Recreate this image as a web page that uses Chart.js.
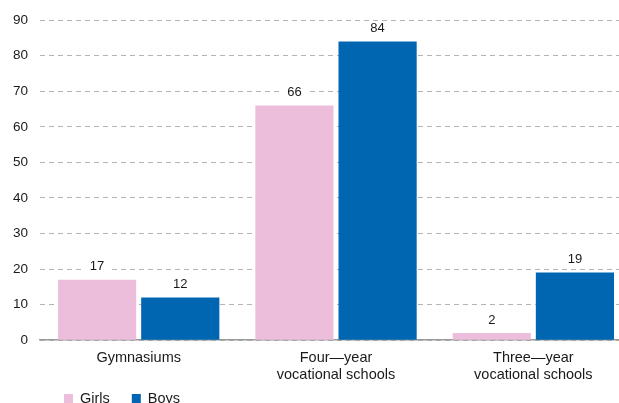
<!DOCTYPE html>
<html>
<head>
<meta charset="utf-8">
<script src="https://cdn.jsdelivr.net/npm/chart.js@4.4.1/dist/chart.umd.min.js"></script>
<style>
  html, body { margin: 0; padding: 0; background: #fff; overflow: hidden; }
  #wrap { width: 632px; height: 403px; }
</style>
</head>
<body>
<div id="wrap"><canvas id="chart" width="632" height="403"></canvas></div>
<script>
// data
const categories = [
  ['Gymnasiums'],
  ['Four\u2014year', 'vocational schools'],
  ['Three\u2014year', 'vocational schools']
];
const girls = [17, 66, 2];
const boys = [12, 84, 19];
const seriesNames = ['Girls', 'Boys'];
const yMax = 90;
const yStep = 10;

const pink = '#ecbedc';
const blue = '#0066b1';
const font = '"Liberation Sans", Arial, sans-serif';

// value labels above the bars, on a white patch so the dashes stop round them
const valueLabels = {
  id: 'valueLabels',
  afterDatasetsDraw(chart) {
    const ctx = chart.ctx;
    ctx.save();
    ctx.font = '13px ' + font;
    ctx.textAlign = 'center';
    ctx.textBaseline = 'middle';
    chart.data.datasets.forEach((ds, i) => {
      chart.getDatasetMeta(i).data.forEach((bar, j) => {
        const txt = String(ds.data[j]);
        const w = ctx.measureText(txt).width;
        const y = bar.y - 13;
        ctx.fillStyle = '#fff';
        ctx.fillRect(bar.x - w / 2 - 5, y - 7, w + 10, 14);
        ctx.fillStyle = '#1a1a1a';
        ctx.fillText(txt, bar.x, y);
      });
    });
    ctx.restore();
  }
};

// small legend at the bottom left
const bottomLegend = {
  id: 'bottomLegend',
  afterDraw(chart) {
    const ctx = chart.ctx;
    ctx.save();
    ctx.font = '14.5px ' + font;
    ctx.textBaseline = 'alphabetic';
    let x = 64;
    chart.data.datasets.forEach(ds => {
      ctx.fillStyle = ds.backgroundColor;
      ctx.fillRect(x, 394, 9, 9);
      ctx.fillStyle = '#1a1a1a';
      ctx.fillText(ds.label, x + 16, 403);
      x += 16 + ctx.measureText(ds.label).width + 22;
    });
    ctx.restore();
  }
};

new Chart(document.getElementById('chart'), {
  type: 'bar',
  data: {
    labels: categories,
    datasets: [
      { label: seriesNames[0], data: girls, backgroundColor: pink },
      { label: seriesNames[1], data: boys, backgroundColor: blue }
    ]
  },
  options: {
    responsive: false,
    devicePixelRatio: 1,
    animation: false,
    categoryPercentage: 0.843,
    barPercentage: 0.94,
    layout: { padding: { top: 12, left: 1, right: 0, bottom: 10 } },
    plugins: {
      legend: { display: false },
      tooltip: { enabled: false }
    },
    scales: {
      x: {
        offset: true,
        grid: { display: false, drawTicks: false },
        border: { color: '#9a9a9a', width: 1.5 },
        ticks: {
          padding: 9,
          color: '#1a1a1a',
          maxRotation: 0,
          font: { family: font, size: 14.5, lineHeight: 1.2 }
        }
      },
      y: {
        min: 0,
        max: yMax,
        grid: { color: '#b4b4b4', lineWidth: 1, drawTicks: false },
        border: { display: false, dash: [5, 4] },
        ticks: {
          stepSize: yStep,
          padding: 12,
          color: '#1a1a1a',
          font: { family: font, size: 13.5 }
        }
      }
    }
  },
  plugins: [valueLabels, bottomLegend]
});
</script>
</body>
</html>
